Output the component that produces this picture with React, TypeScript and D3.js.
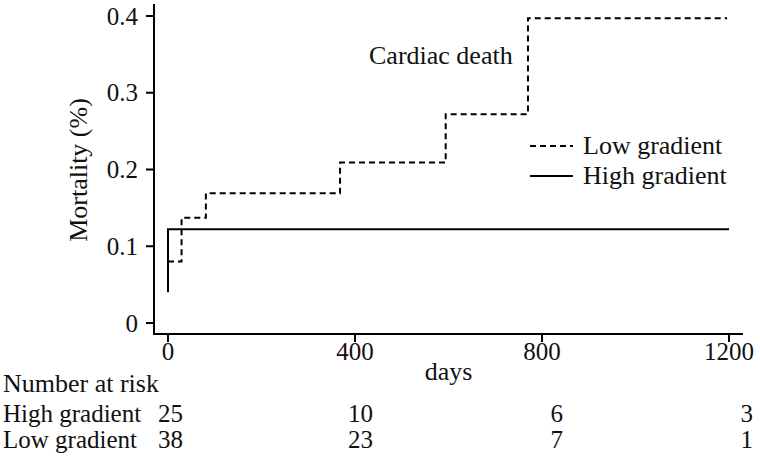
import React from "react";
import * as d3 from "d3";

const lowTimes = [0, 29, 81, 368, 594, 770, 1196];
const lowValues = [0.08, 0.137, 0.169, 0.209, 0.272, 0.397, 0.397];
const highTimes = [0, 0, 1200];
const highValues = [0.04, 0.122, 0.122];
const xTicks = [0, 400, 800, 1200];
const xTickLabels = ["0", "400", "800", "1200"];
const yTicks = [0, 0.1, 0.2, 0.3, 0.4];
const yTickLabels = ["0", "0.1", "0.2", "0.3", "0.4"];
const riskGroups = ["High gradient", "Low gradient"];
const riskTimes = [0, 400, 800, 1200];
const riskHigh = [25, 10, 6, 3];
const riskLow = [38, 23, 7, 1];
const legendLabels = ["Low gradient", "High gradient"];

const FONT = "'Liberation Serif', 'Times New Roman', serif";

export default function App() {
  const x = d3.scaleLinear().domain([0, 1200]).range([168, 729]);
  const y = d3.scaleLinear().domain([0, 0.4]).range([323, 16]);
  const xr = d3.scaleLinear().domain([0, 1200]).range([183, 753]);

  const line = d3
    .line<[number, number]>()
    .x((d) => x(d[0]))
    .y((d) => y(d[1]))
    .curve(d3.curveStepAfter);

  const lowPath = line(lowTimes.map((t, i) => [t, lowValues[i]]) as [number, number][]) || "";
  const highPath = line(highTimes.map((t, i) => [t, highValues[i]]) as [number, number][]) || "";

  const riskRows = [riskHigh, riskLow];
  const rowY = [422, 448];

  return (
    <svg
      width={760}
      height={467}
      style={{ position: "absolute", left: 0, top: 0, background: "#fff", display: "block" }}
      fontFamily={FONT}
    >
      <rect x={0} y={0} width={760} height={467} fill="#fff" />
      {/* axes */}
      <line x1={154} y1={4} x2={154} y2={334} stroke="#000" strokeWidth={2} />
      <line x1={153} y1={334} x2={743} y2={334} stroke="#000" strokeWidth={2} />
      {yTicks.map((t, i) => (
        <g key={"yt" + i}>
          <line x1={146} x2={154} y1={y(t)} y2={y(t)} stroke="#000" strokeWidth={2} />
          <text x={138} y={y(t)} dy="0.34em" textAnchor="end" fontSize={25} fill="#111">
            {yTickLabels[i]}
          </text>
        </g>
      ))}
      {xTicks.map((t, i) => (
        <g key={"xt" + i}>
          <line x1={x(t)} x2={x(t)} y1={334} y2={342} stroke="#000" strokeWidth={2} />
          <text x={x(t)} y={360} textAnchor="middle" fontSize={25} fill="#111">
            {xTickLabels[i]}
          </text>
        </g>
      ))}
      <text
        transform={`translate(87,170) rotate(-90)`}
        textAnchor="middle"
        fontSize={26}
        fill="#111"
      >
        Mortality (%)
      </text>
      <text x={(x(0) + x(1200)) / 2} y={380} textAnchor="middle" fontSize={26} fill="#111">
        days
      </text>

      {/* data */}
      <path d={highPath} fill="none" stroke="#000" strokeWidth={2} />
      <path d={lowPath} fill="none" stroke="#000" strokeWidth={2} strokeDasharray="6,4" />

      <text x={369} y={64} fontSize={26} fill="#111">
        Cardiac death
      </text>

      {/* legend */}
      <line x1={530} x2={573} y1={146} y2={146} stroke="#000" strokeWidth={2} strokeDasharray="6,4" />
      <text x={583} y={154} fontSize={26} fill="#111">
        {legendLabels[0]}
      </text>
      <line x1={530} x2={573} y1={176} y2={176} stroke="#000" strokeWidth={2} />
      <text x={583} y={184} fontSize={26} fill="#111">
        {legendLabels[1]}
      </text>

      {/* number at risk */}
      <text x={3} y={392} fontSize={26} fill="#111">
        Number at risk
      </text>
      {riskGroups.map((g, r) => (
        <g key={"rg" + r}>
          <text x={3} y={rowY[r]} fontSize={25} fill="#111">
            {g}
          </text>
          {riskTimes.map((t, i) => (
            <text key={i} x={xr(t)} y={rowY[r]} textAnchor="end" fontSize={25} fill="#111">
              {riskRows[r][i]}
            </text>
          ))}
        </g>
      ))}
    </svg>
  );
}
